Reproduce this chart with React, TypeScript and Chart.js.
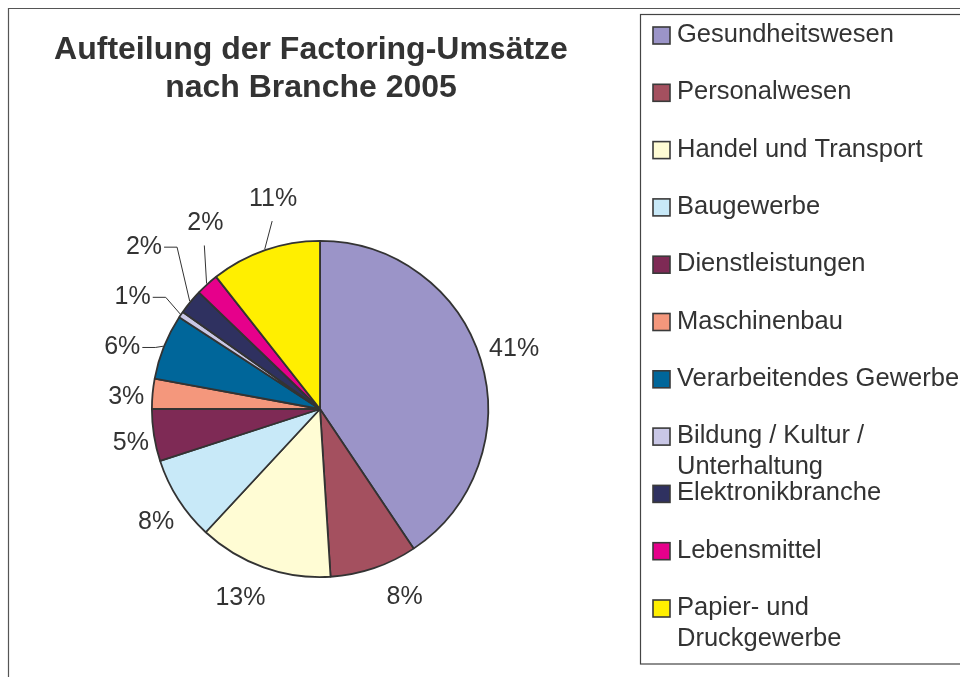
import { useEffect, useRef } from "react";
import { Chart, registerables } from "chart.js";

Chart.register(...registerables);

// ---------- data ----------
const titleLines = ["Aufteilung der Factoring-Umsätze", "nach Branche 2005"];
const categories = [
  "Gesundheitswesen",
  "Personalwesen",
  "Handel und Transport",
  "Baugewerbe",
  "Dienstleistungen",
  "Maschinenbau",
  "Verarbeitendes Gewerbe",
  "Bildung / Kultur / Unterhaltung",
  "Elektronikbranche",
  "Lebensmittel",
  "Papier- und Druckgewerbe",
];
const legendLines = [
  ["Gesundheitswesen"],
  ["Personalwesen"],
  ["Handel und Transport"],
  ["Baugewerbe"],
  ["Dienstleistungen"],
  ["Maschinenbau"],
  ["Verarbeitendes Gewerbe"],
  ["Bildung / Kultur /", "Unterhaltung"],
  ["Elektronikbranche"],
  ["Lebensmittel"],
  ["Papier- und", "Druckgewerbe"],
];
const shares = [40.6, 8.4, 12.9, 8.1, 5.0, 2.9, 6.3, 0.6, 2.4, 2.2, 10.6];

// ---------- styles / layout ----------
const sliceColors = [
  "#9b94c8",
  "#a4505f",
  "#fffcd4",
  "#c8e9f8",
  "#7e2a55",
  "#f4977c",
  "#00669a",
  "#c9c7e6",
  "#2f3160",
  "#e6008b",
  "#ffef00",
];
const labelAngleShift = [-0.2, -5.5, 3.2, -2.0, -1.1, -1.7, -4.5, -3.4, 3.0, 10.4, 6.5];
const labelGap = [35, 38, 37, 31, 24, 26, 39, 50, 71, 50, 47];
const leaderMode = ["", "", "", "", "", "", "side", "side", "side", "top", "top"];

const FONT = "'Liberation Sans', Arial, Helvetica, sans-serif";
const TEXT = "#333333";

const overlayPlugin = {
  id: "overlay",
  beforeDraw(chart: any) {
    const ctx = chart.ctx as CanvasRenderingContext2D;
    ctx.save();
    ctx.fillStyle = "#ffffff";
    ctx.fillRect(0, 0, chart.width, chart.height);
    // outer frame (left + top)
    ctx.strokeStyle = "#555555";
    ctx.lineWidth = 1.2;
    ctx.beginPath();
    ctx.moveTo(8.5, chart.height);
    ctx.lineTo(8.5, 8.5);
    ctx.lineTo(chart.width, 8.5);
    ctx.stroke();
    ctx.restore();
  },
  afterDatasetsDraw(chart: any) {
    const ctx = chart.ctx as CanvasRenderingContext2D;
    const meta = chart.getDatasetMeta(0);
    ctx.save();

    // title
    ctx.fillStyle = TEXT;
    ctx.font = `bold 32px ${FONT}`;
    ctx.textAlign = "center";
    ctx.textBaseline = "middle";
    titleLines.forEach((t, i) => ctx.fillText(t, 311, 50 + i * 38));

    // data labels
    ctx.font = `25px ${FONT}`;
    meta.data.forEach((arc: any, i: number) => {
      const p = arc.getProps(["x", "y", "startAngle", "endAngle", "outerRadius"], true);
      const mid = (p.startAngle + p.endAngle) / 2 + Math.PI / 2; // from top, clockwise
      const la = mid + (labelAngleShift[i] * Math.PI) / 180;
      const d = p.outerRadius + labelGap[i];
      const cx = p.x + d * Math.sin(la);
      const cy = p.y - d * Math.cos(la);
      const txt = Math.round(shares[i]) + "%";
      ctx.fillStyle = TEXT;
      ctx.textAlign = "center";
      ctx.textBaseline = "middle";
      ctx.fillText(txt, cx, cy);
      const mode = leaderMode[i];
      if (mode) {
        const ex = p.x + (p.outerRadius + 1) * Math.sin(mid);
        const ey = p.y - (p.outerRadius + 1) * Math.cos(mid);
        const w = ctx.measureText(txt).width;
        ctx.strokeStyle = "#333333";
        ctx.lineWidth = 1;
        ctx.beginPath();
        if (mode === "side") {
          const sx = cx + w / 2 + 2;
          ctx.moveTo(sx, cy);
          ctx.lineTo(sx + 13, cy);
          ctx.lineTo(ex, ey);
        } else {
          ctx.moveTo(cx - 1, cy + 22);
          ctx.lineTo(ex, ey);
        }
        ctx.stroke();
      }
    });

    // legend
    ctx.strokeStyle = "#444444";
    ctx.lineWidth = 1.2;
    ctx.strokeRect(640.5, 14.5, 400, 649.5);
    ctx.font = `25.5px ${FONT}`;
    ctx.textAlign = "left";
    ctx.textBaseline = "middle";
    legendLines.forEach((lines, i) => {
      const yc = 35 + i * 57.3;
      ctx.fillStyle = sliceColors[i];
      ctx.fillRect(653, yc - 8, 17, 17);
      ctx.strokeStyle = "#3a3a3a";
      ctx.lineWidth = 1.6;
      ctx.strokeRect(653, yc - 8, 17, 17);
      ctx.fillStyle = TEXT;
      lines.forEach((ln, j) => ctx.fillText(ln, 677, yc + j * 31));
    });

    ctx.restore();
  },
};

export default function App() {
  const ref = useRef<HTMLCanvasElement | null>(null);
  useEffect(() => {
    document.body.style.margin = "0";
    document.body.style.overflow = "hidden";
    const canvas = ref.current;
    if (!canvas) return;
    const chart = new Chart(canvas, {
      type: "pie",
      data: {
        labels: categories,
        datasets: [
          {
            data: shares,
            backgroundColor: sliceColors,
            borderColor: "#333333",
            borderWidth: 1.8,
          },
        ],
      },
      options: {
        responsive: false,
        animation: false,
        devicePixelRatio: 1,
        layout: { padding: { left: 151, right: 471, top: 240, bottom: 99 } },
        plugins: {
          legend: { display: false },
          title: { display: false },
          tooltip: { enabled: false },
        },
      },
      plugins: [overlayPlugin],
    });
    return () => chart.destroy();
  }, []);
  return <canvas ref={ref} width={960} height={677} style={{ display: "block", width: 960, height: 677 }} />;
}
